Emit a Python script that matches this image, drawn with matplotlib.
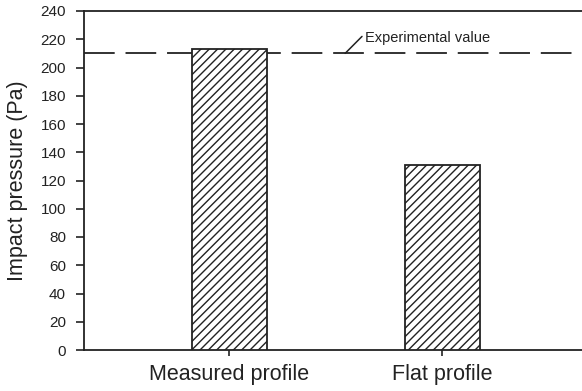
import matplotlib
matplotlib.use("Agg")
import matplotlib.pyplot as plt

categories = ["Measured profile", "Flat profile"]
values = [213, 131]
experimental_value = 210
yticks = list(range(0, 241, 20))

plt.rcParams['font.family'] = ['Liberation Sans', 'DejaVu Sans']
plt.rcParams['hatch.linewidth'] = 1.0

fig = plt.figure(figsize=(5.82, 3.91), dpi=100)
W, H = 582, 391
left, right, bottom, top = 84, 582, 350, 11
ax = fig.add_axes([left / W, (H - bottom) / H, (right - left) / W, (bottom - top) / H])

c0, c1 = 229.5, 442.5
unit = c1 - c0
xlim_lo = -(c0 - left) / unit
xlim_hi = (right - c0) / unit

x = list(range(len(categories)))
ax.bar(x, values, width=75 / unit, facecolor='white', edgecolor='#222222',
       hatch='////', linewidth=1.3, zorder=3)
ax.axhline(experimental_value, color='#222222', linewidth=1.3,
           dashes=(17, 6), zorder=2)

ax.set_xlim(xlim_lo, xlim_hi)
ax.set_ylim(0, 240)
ax.set_yticks(yticks)
ax.set_xticks(x)
ax.set_xticklabels(categories, fontsize=15.5, color='#222222')
ax.tick_params(axis='y', direction='out', length=6, width=1.2, labelsize=11,
               colors='#222222', pad=7)
ax.tick_params(axis='x', direction='out', length=4, width=1.2, pad=6, colors='#222222')
ax.spines['right'].set_visible(False)
for s in ['left', 'top', 'bottom']:
    ax.spines[s].set_linewidth(1.3)
    ax.spines[s].set_color('#222222')
ax.set_ylabel("Impact pressure (Pa)", fontsize=15.5, color='#222222', labelpad=9)

# annotation leader and text
ax.annotate("", xy=(0.543, experimental_value),
            xytext=(0.622, 222.0),
            arrowprops=dict(arrowstyle='-', color='#222222', lw=1.1,
                            shrinkA=0, shrinkB=0),
            annotation_clip=False)
ax.text(0.635, 221.0, "Experimental value", fontsize=10.5, color='#222222',
        ha='left', va='center')

fig.savefig("out.png", dpi=100, facecolor='white')
